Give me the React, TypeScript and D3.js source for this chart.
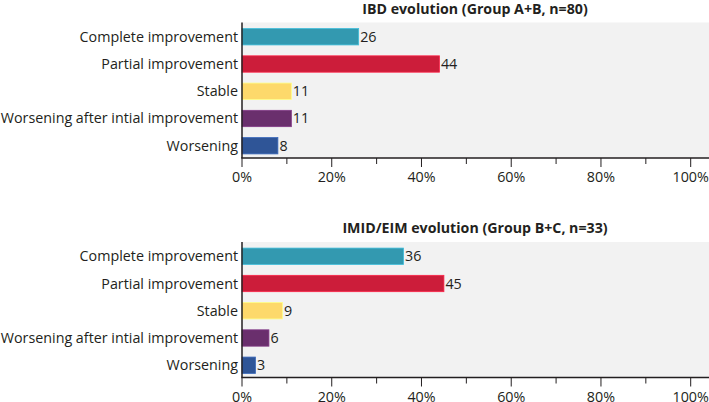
import React from "react";
import * as d3 from "d3";

const categories = [
  "Complete improvement",
  "Partial improvement",
  "Stable",
  "Worsening after intial improvement",
  "Worsening",
];
const colors = ["#3399b0", "#cc1d3a", "#fdd96b", "#6a2f6d", "#2f5597"];
const ibdValues = [26, 44, 11, 11, 8];
const imidValues = [36, 45, 9, 6, 3];
const panelTitles = [
  "IBD evolution (Group A+B, n=80)",
  "IMID/EIM evolution (Group B+C, n=33)",
];
const majorTicks = [0, 20, 40, 60, 80, 100];
const minorTicks = [10, 30, 50, 70, 90];

const W = 709;
const H = 402;
const left = 242;
const right = 709;
const FONT = "'Open Sans', sans-serif";

function Panel({ top, title, values }: { top: number; title: string; values: number[] }) {
  const bgTop = top;
  const axisY = top + 135.5;
  const x = d3.scaleLinear().domain([0, 100]).range([left, 690.7]);
  const y = d3.scaleBand().domain(categories).range([bgTop + 2, axisY]).paddingInner(0.4).paddingOuter(0.15);
  return (
    <g>
      <text x={475} y={bgTop - 9} textAnchor="middle" fontFamily={FONT} fontWeight="bold" fontSize={14.2} fill="#231f20">
        {title}
      </text>
      <rect x={left} y={bgTop} width={right - left} height={axisY - bgTop} fill="#f2f2f2" />
      {categories.map((c, i) => (
        <g key={c}>
          <rect
            x={x(0)}
            y={y(c)!}
            width={x(values[i]) - x(0)}
            height={y.bandwidth()}
            fill={colors[i]}
            stroke={d3.color(colors[i])!.brighter(0.6).toString()}
            strokeWidth={0.8}
          />
          <text x={left - 4} y={y(c)! + y.bandwidth() / 2} dy="0.35em" textAnchor="end" fontFamily={FONT} fontSize={14.3} fill="#231f20">
            {c}
          </text>
          <text x={x(values[i]) + 1.5} y={y(c)! + y.bandwidth() / 2} dy="0.35em" fontFamily={FONT} fontSize={14.3} fill="#231f20">
            {values[i]}
          </text>
        </g>
      ))}
      <line x1={left} x2={left} y1={bgTop} y2={axisY} stroke="#231f20" strokeWidth={1.5} />
      <line x1={left - 0.75} x2={right} y1={axisY} y2={axisY} stroke="#231f20" strokeWidth={1.5} />
      {majorTicks.map((t) => (
        <g key={"M" + t}>
          <line x1={x(t)} x2={x(t)} y1={axisY} y2={axisY + 9} stroke="#231f20" strokeWidth={1} />
          <text x={x(t)} y={axisY + 24} textAnchor="middle" fontFamily={FONT} fontSize={14.3} fill="#231f20">
            {t + "%"}
          </text>
        </g>
      ))}
      {minorTicks.map((t) => (
        <line key={"m" + t} x1={x(t)} x2={x(t)} y1={axisY} y2={axisY + 6} stroke="#231f20" strokeWidth={1} />
      ))}
    </g>
  );
}

export default function App() {
  return (
    <svg width={W} height={H} style={{ position: "absolute", left: 0, top: 0, background: "#fff" }}>
      <Panel top={22.5} title={panelTitles[0]} values={ibdValues} />
      <Panel top={242} title={panelTitles[1]} values={imidValues} />
    </svg>
  );
}
